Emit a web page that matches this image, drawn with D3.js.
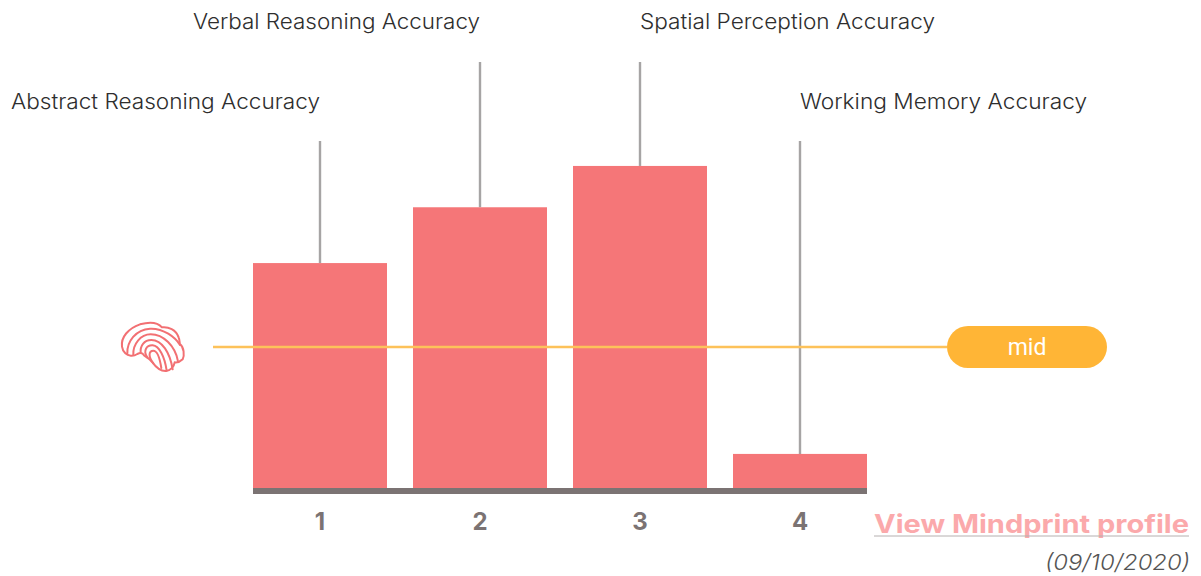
<!DOCTYPE html>
<html><head><meta charset="utf-8">
<script src="https://cdn.jsdelivr.net/npm/d3@7/dist/d3.min.js"></script>
<style>html,body{margin:0;padding:0;background:#fff}svg{display:block}text{font-family:Inter,"Open Sans",sans-serif}</style>
</head><body><div id="chart"></div>
<script>
const categories = ["1","2","3","4"];
const labels = ["Abstract Reasoning Accuracy","Verbal Reasoning Accuracy","Spatial Perception Accuracy","Working Memory Accuracy"];
const values = [52.8,65.9,75.6,8];
const midValue = 33.1;
const midLabel = "mid";
const linkText = "View Mindprint profile";
const dateText = "(09/10/2020)";
const labelWidths = [309,287,295,287];

const W=1201,H=576;
const svg=d3.select("#chart").append("svg").attr("width",W).attr("height",H);
const x=d3.scaleBand().domain(categories).range([240,880]).paddingInner(26/160).paddingOuter(13/160);
const y=d3.scaleLinear().domain([0,100]).range([488,62]);
const barColor="#f57678", axisColor="#7b7373", midColor="#ffb536";
const cx=d=>x(d)+x.bandwidth()/2;

// leader lines
svg.selectAll("line.leader").data(categories).join("line").attr("class","leader")
 .attr("x1",cx).attr("x2",cx)
 .attr("y1",(d,i)=>i===0||i===3?141:62)
 .attr("y2",(d,i)=>y(values[i]))
 .attr("stroke","#a6a4a4").attr("stroke-width",2.4);

// bars
svg.selectAll("rect.bar").data(categories).join("rect").attr("class","bar")
 .attr("x",d=>x(d)).attr("width",x.bandwidth())
 .attr("y",(d,i)=>y(values[i])).attr("height",(d,i)=>y(0)-y(values[i]))
 .attr("fill",barColor);

// axis
const axis=d3.axisBottom(x).tickSize(0).tickPadding(25);
const ag=svg.append("g").attr("transform",`translate(0,${y(0)})`).call(axis);
ag.select(".domain").remove();
ag.selectAll("text").attr("font-size",24).attr("font-weight",700).attr("fill",axisColor).style("font-family","Inter,sans-serif");
svg.append("rect").attr("x",x(categories[0])).attr("y",y(0)).attr("width",x(categories[3])+x.bandwidth()-x(categories[0])).attr("height",6).attr("fill",axisColor);

// top labels
svg.selectAll("text.lab").data(labels).join("text").attr("class","lab")
 .attr("x",(d,i)=>cx(categories[i]))
 .attr("y",(d,i)=>i===0||i===3?109:29)
 .attr("text-anchor",(d,i)=>i<2?"end":"start")
 .attr("font-size",21).attr("font-weight",300).attr("fill","#2e2e2e")
 .attr("textLength",(d,i)=>labelWidths[i]).attr("lengthAdjust","spacingAndGlyphs")
 .text(d=>d);

// mid line and pill
svg.append("line").attr("x1",213).attr("x2",947).attr("y1",347).attr("y2",347).attr("stroke","#fdc25a").attr("stroke-width",2.4);
svg.append("rect").attr("x",947).attr("y",y(midValue)-21).attr("width",160).attr("height",42).attr("rx",21).attr("fill",midColor);
svg.append("text").attr("x",1027).attr("y",y(midValue)+8).attr("text-anchor","middle").attr("font-size",23).style("font-family","Roboto,sans-serif").attr("font-weight",400).attr("fill","#fff").text(midLabel);

// brain icon
const ic=svg.append("g").attr("transform","translate(100,300) scale(0.3333)").attr("fill","none").attr("stroke","#f27073").attr("stroke-width",6).attr("stroke-linecap","round").attr("stroke-linejoin","round");
const iconPaths=[
"M66,140C62,112 85,85 120,73C145,66 172,66 186,82C205,80 228,88 236,112C240,122 238,128 240,132C252,142 254,165 248,178C240,186 232,188 224,187C222,200 212,212 198,213C180,214 168,202 158,188C150,178 142,172 132,166C128,158 120,158 112,162C100,170 84,168 76,160C70,154 67,148 66,140Z",
"M82,161C80,125 108,88 150,86C190,84 226,112 240,135",
"M100,165C98,132 122,103 152,103C190,103 226,138 234,184",
"M122,158C120,138 132,120 154,120C186,120 210,158 218,208",
"M142,172C128,152 140,135 158,136C178,138 194,170 200,212",
"M160,190C144,170 146,152 160,152C172,152 180,178 184,204"];
ic.selectAll("path").data(iconPaths).join("path").attr("d",d=>d);

// link + date
svg.append("text").attr("x",1189).attr("y",533).attr("text-anchor","end").attr("font-size",25).attr("font-weight",700).attr("fill","#fba9ab").attr("textLength",315).attr("lengthAdjust","spacingAndGlyphs").text(linkText);
svg.append("line").attr("x1",874).attr("x2",1189).attr("y1",536).attr("y2",536).attr("stroke","#b5b0b0").attr("stroke-width",1);
svg.append("text").attr("x",1190).attr("y",570).attr("text-anchor","end").attr("font-size",22).attr("font-weight",300).attr("font-style","italic").attr("fill","#555").attr("textLength",145).attr("lengthAdjust","spacingAndGlyphs").text(dateText);
</script></body></html>
